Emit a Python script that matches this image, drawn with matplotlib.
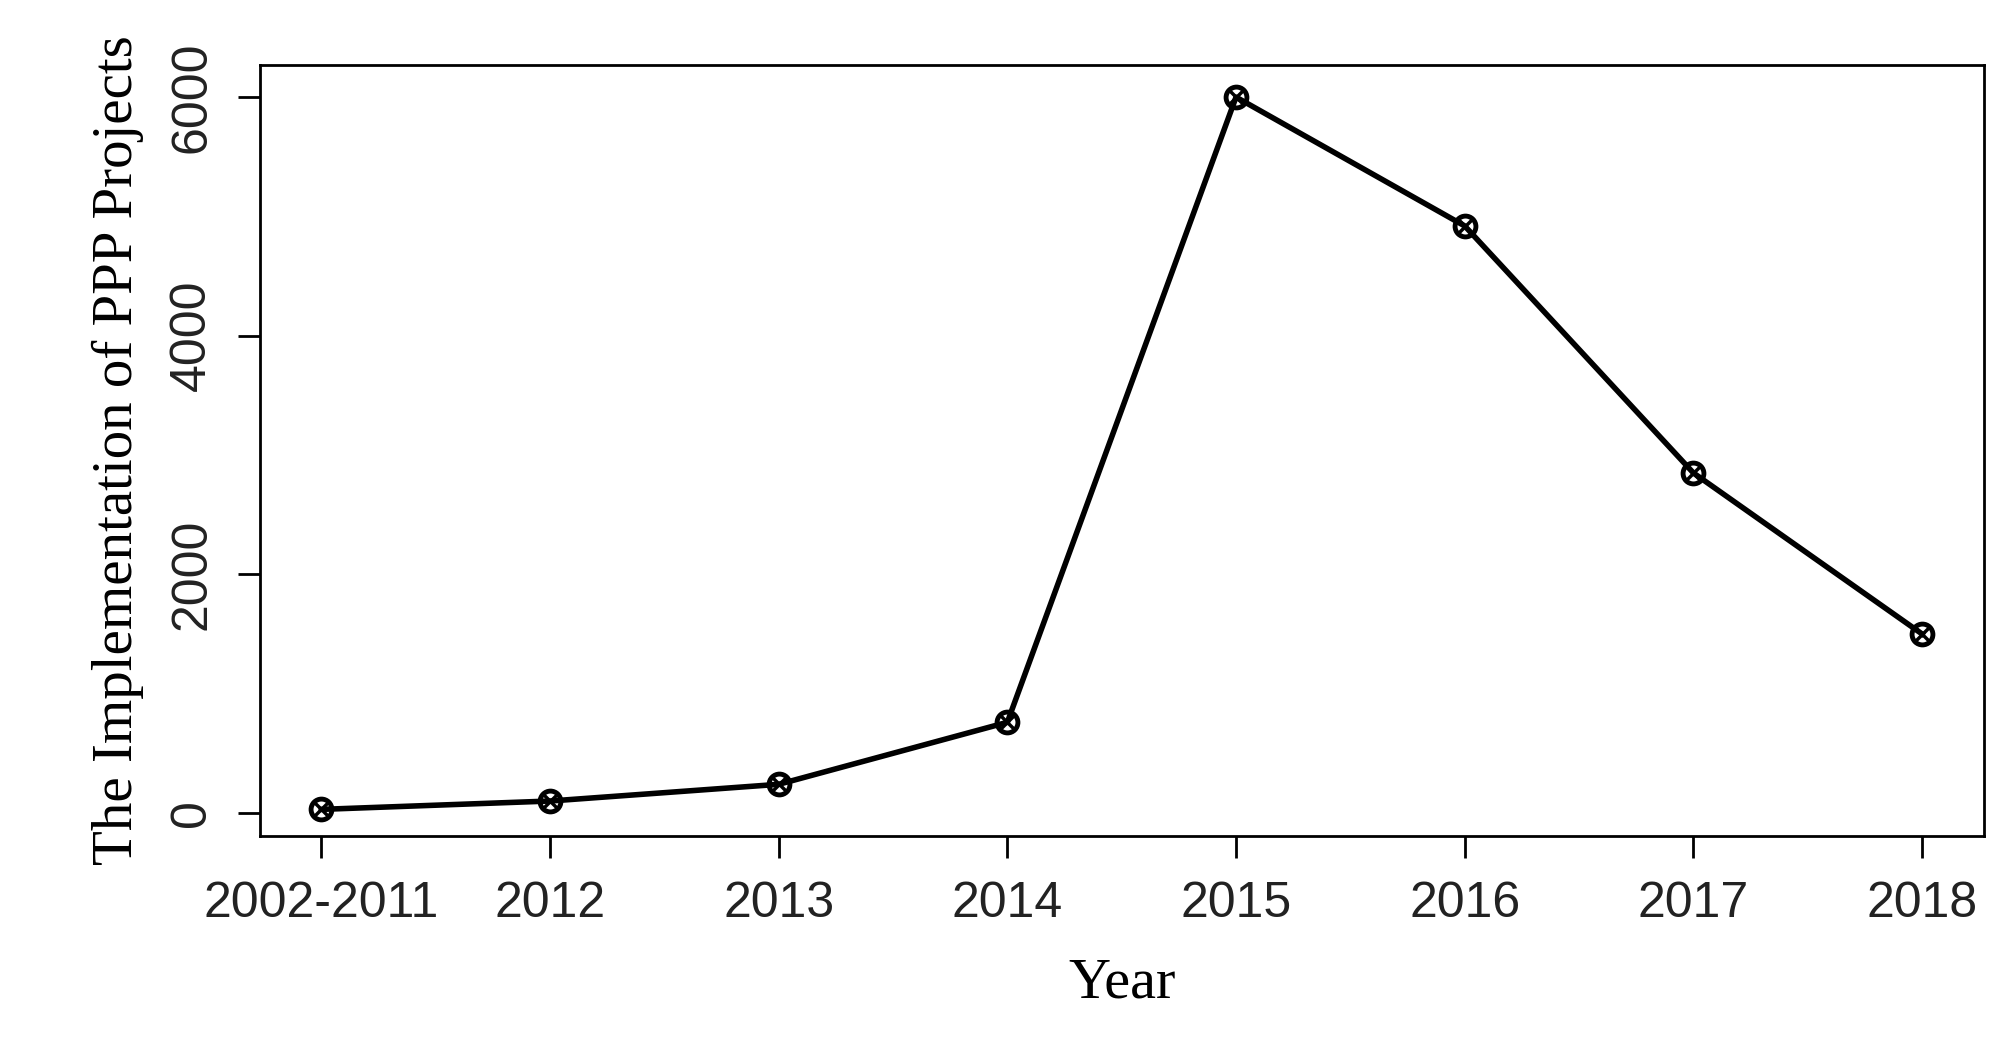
import matplotlib
matplotlib.use("Agg")
import matplotlib.pyplot as plt

categories = ["2002-2011", "2012", "2013", "2014", "2015", "2016", "2017", "2018"]
values = [30, 100, 240, 760, 6000, 4920, 2850, 1500]
yticks = [0, 2000, 4000, 6000]

fig = plt.figure(figsize=(20.12, 10.60), dpi=100)
ax = fig.add_axes([0.129, 0.211, 0.857, 0.728])
x = list(range(len(categories)))
ax.plot(x, values, color="black", lw=4, marker="o", ms=15, mfc="none", mew=3.5)
ax.plot(x, values, ls="none", color="black", marker="x", ms=8, mew=2.5)
ax.set_xlim(-0.27, 7.27)
ax.set_ylim(-196, 6272)
ax.set_xticks(x)
ax.set_xticklabels(categories, fontsize=36, family="Liberation Sans", color="#222222")
ax.set_yticks(yticks)
ax.set_yticklabels([str(v) for v in yticks], fontsize=36, family="Liberation Sans",
                   rotation=90, va="center", color="#222222")
ax.tick_params(axis="both", length=16, width=2, pad=16)
for s in ax.spines.values():
    s.set_linewidth(2)
ax.set_xlabel("Year", fontsize=42, family="Liberation Serif", labelpad=22)
ax.set_ylabel("The Implementation of PPP Projects", fontsize=41, family="Liberation Serif", labelpad=18)
fig.savefig("out.png", dpi=100)
